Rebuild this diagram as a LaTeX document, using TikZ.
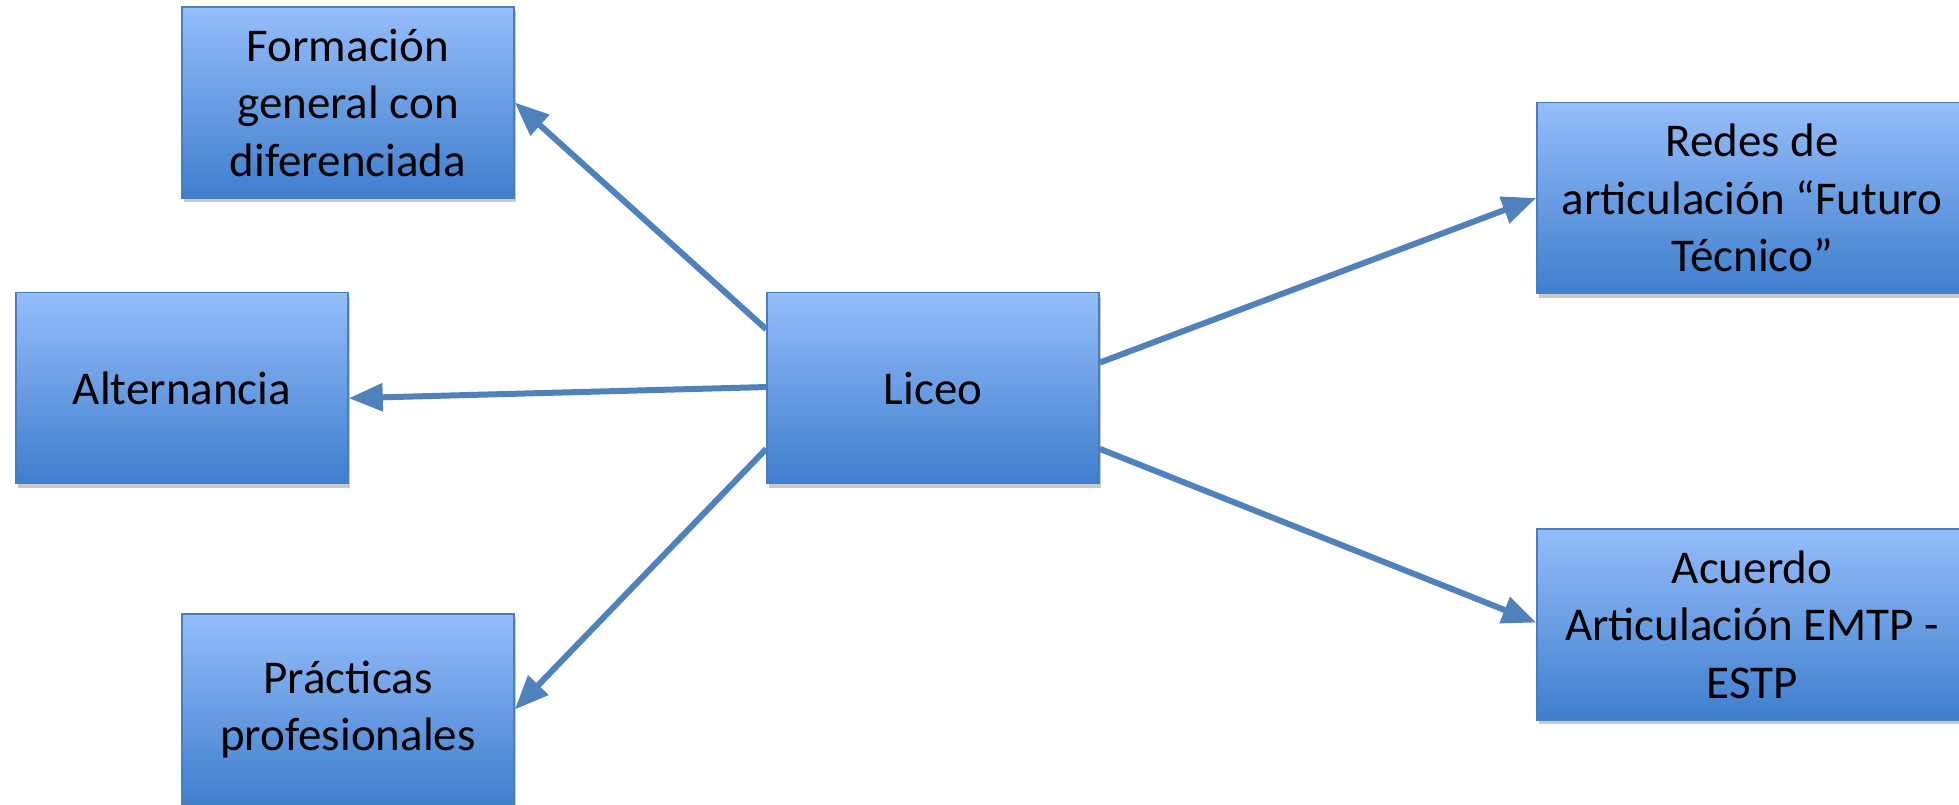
\documentclass[tikz,border=0pt]{standalone}
\usepackage{fontspec}
\setmainfont{Carlito}
\usetikzlibrary{arrows.meta,shadows,calc}
\definecolor{boxtop}{HTML}{95BDFA}
\definecolor{boxbot}{HTML}{3F7ECD}
\definecolor{boxline}{HTML}{4A7EBB}
\definecolor{arrowcol}{HTML}{4F81BD}
\tikzset{
  box/.style={rectangle, draw=boxline, line width=1.5pt, top color=boxtop, bottom color=boxbot,
    minimum width=332pt, minimum height=191pt, inner sep=0pt, align=center,
    font=\fontsize{47pt}{57.5pt}\selectfont,
    drop shadow={shadow xshift=1.5pt, shadow yshift=-4pt, opacity=0.35, fill=black!60}},
  widebox/.style={box, minimum width=440pt},
  boxtext/.style={align=center, font=\fontsize{47pt}{57.5pt}\selectfont},
  conn/.style={draw=arrowcol, line width=6pt, -{Triangle[length=34pt,width=27pt]}}
}
\begin{document}
\begin{tikzpicture}[x=1pt,y=1pt]
\useasboundingbox (0,0) rectangle (1959,-804);
\fill[white] (0,0) rectangle (1959,-804);
\node[box] (form) at (348,-102.5) {Formación\\general con\\diferenciada};
\node[box] (alt) at (182,-388) {Alternancia};
\node[box] (liceo) at (933,-388) {Liceo};
\node[box] (prac) at (348,-709.5) {Prácticas\\profesionales};
\node[widebox] (redes) at (1757,-198) {};
\node[boxtext] (redestxt) at (1752,-198) {Redes de\\articulación “Futuro\\Técnico”};
\node[widebox] (acu) at (1757,-624.5) {};
\node[boxtext] (acutxt) at (1752,-624.5) {Acuerdo\\Articulación EMTP -\\ESTP};
\coordinate (l1) at ($(liceo.north west)!0.195!(liceo.south west)$);
\coordinate (l2) at ($(liceo.north west)!0.495!(liceo.south west)$);
\coordinate (l3) at ($(liceo.north west)!0.816!(liceo.south west)$);
\coordinate (r1) at ($(liceo.north east)!0.368!(liceo.south east)$);
\coordinate (r2) at ($(liceo.north east)!0.816!(liceo.south east)$);
\coordinate (altin) at ($(alt.north east)!0.553!(alt.south east)$);
\coordinate (redin) at ($(redes.north west)!0.5!(redes.south west)$);
\coordinate (acuin) at ($(acu.north west)!0.49!(acu.south west)$);
\draw[conn] (l1) -- (form.east);
\draw[conn] (l2) -- (altin);
\draw[conn] (l3) -- (prac.east);
\draw[conn] (r1) -- (redin);
\draw[conn] (r2) -- (acuin);
\end{tikzpicture}
\end{document}
